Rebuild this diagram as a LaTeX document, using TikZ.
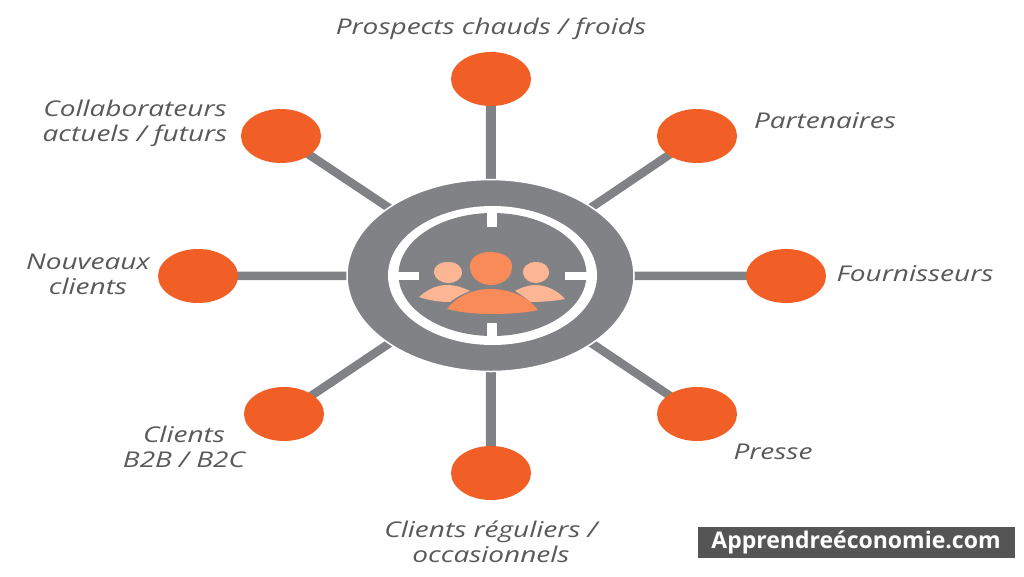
\documentclass[tikz,border=0pt]{standalone}
\usepackage{fontspec}
\setmainfont{Open Sans}
\newfontfamily\lblfont[FakeStretch=1.29]{Open Sans}
\usetikzlibrary{shapes.geometric,backgrounds}
\definecolor{hubgray}{HTML}{808285}
\definecolor{spot}{HTML}{F15F27}
\definecolor{pdark}{HTML}{F98B58}
\definecolor{plight}{HTML}{FCB693}
\definecolor{lab}{HTML}{58595B}
\definecolor{wmgray}{HTML}{555555}
\tikzset{
  x=1pt,y=-1pt,
  spotnode/.style={ellipse,fill=spot,minimum width=80pt,minimum height=54pt,inner sep=0pt},
  spoke/.style={draw=hubgray,line width=8.5pt},
  lbl/.style={font=\lblfont\fontsize{21.7}{25}\selectfont\itshape,text=lab,align=center,inner sep=0pt},
  tickbar/.style={fill=white},
}
\begin{document}
\begin{tikzpicture}
\useasboundingbox (0,0) rectangle (1024,576);
\node[ellipse,fill=hubgray,draw=white,line width=1.5pt,minimum width=287pt,minimum height=192pt,inner sep=0pt] (hub) at (490.5,275.5) {};
\node[spotnode] (n1) at (491,79) {};
\node[spotnode] (n2) at (697,136) {};
\node[spotnode] (n3) at (786,276) {};
\node[spotnode] (n4) at (697,414) {};
\node[spotnode] (n5) at (491,473) {};
\node[spotnode] (n6) at (284,414) {};
\node[spotnode] (n7) at (198,276) {};
\node[spotnode] (n8) at (281,136) {};
\begin{scope}[on background layer]
\fill[white] (0,0) rectangle (1024,576);
\draw[spoke,line width=10pt] (n1.center) -- (hub.center);
\draw[spoke] (n2.center) -- (hub.center);
\draw[spoke] (n3.center) -- (hub.center);
\draw[spoke] (n4.center) -- (hub.center);
\draw[spoke,line width=10pt] (n5.center) -- (hub.center);
\draw[spoke] (n6.center) -- (hub.center);
\draw[spoke] (n7.center) -- (hub.center);
\draw[spoke] (n8.center) -- (hub.center);
\end{scope}
% target ring
\fill[white] (492.5,275.5) ellipse [x radius=104.5,y radius=69.5];
\fill[hubgray] (492.5,274.5) ellipse [x radius=94,y radius=61.5];
\fill[tickbar] (487,210) rectangle (497,227);
\fill[tickbar] (487,323) rectangle (497,340);
\fill[tickbar] (395,272) rectangle (419,279.5);
\fill[tickbar] (565,272) rectangle (590,279.5);
% people
\fill[plight] (448,262) .. controls (458,262) and (463,268) .. (462,274) .. controls (461,279) and (455,283) .. (449,283) .. controls (441,283) and (435,279) .. (434,273) .. controls (433,267) and (439,262) .. (448,262) -- cycle;
\fill[plight] (536,262) .. controls (545,262) and (550,268) .. (549,274) .. controls (548,279) and (542,283) .. (536,283) .. controls (529,283) and (524,279) .. (523,273) .. controls (522,267) and (528,262) .. (536,262) -- cycle;
\fill[plight] (419,297) .. controls (428,289) and (437,285) .. (447,285) .. controls (456,285) and (464,288) .. (470,291) .. controls (462,294) and (455,298) .. (450,302) .. controls (438,302) and (428,300) .. (419,297) -- cycle;
\fill[plight] (565,299) .. controls (557,290) and (546,285) .. (535,285) .. controls (528,285) and (520,288) .. (515,291) .. controls (522,295) and (527,299) .. (530,302) .. controls (542,302) and (555,301) .. (565,299) -- cycle;
\fill[pdark] (490,252) .. controls (503,252) and (513,258) .. (512,268) .. controls (511,279) and (501,285) .. (491,285) .. controls (480,285) and (471,278) .. (470,268) .. controls (469,258) and (478,252) .. (490,252) -- cycle;
\fill[pdark] (447,309) .. controls (456,297) and (472,289) .. (491,289) .. controls (510,289) and (528,297) .. (538,310) .. controls (525,313) and (508,314) .. (490,314) .. controls (474,314) and (459,312) .. (447,309) -- cycle;
% labels
\node[lbl] (l1) at (491,29) {Prospects chauds / froids};
\node[lbl] (l2) at (825,121) {Partenaires};
\node[lbl] (l3) at (915,274) {Fournisseurs};
\node[lbl] (l4) at (773,452) {Presse};
\node[lbl] (l5) at (491,542) {Clients réguliers /\\occasionnels};
\node[lbl] (l6) at (184,447) {Clients\\B2B / B2C};
\node[lbl] (l7) at (88,274) {Nouveaux\\clients};
\node[lbl] (l8) at (135,123) {Collaborateurs\\actuels / futurs};
% watermark
\fill[wmgray] (698,527) rectangle (1015,558);
\node[font=\fontsize{23}{26}\selectfont\bfseries,text=white,inner sep=0pt] (wm) at (856,542) {Apprendreéconomie.com};
\end{tikzpicture}
\end{document}
